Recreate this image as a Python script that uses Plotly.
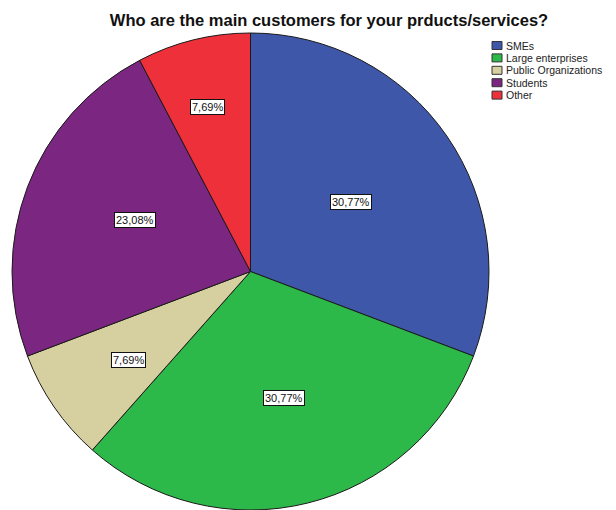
import math
import plotly.graph_objects as go

# Survey answers: main customer groups
categories = ["SMEs", "Large enterprises", "Public Organizations", "Students", "Other"]
counts = [4, 4, 1, 3, 1]
colors = ["#3F57A8", "#2DB84A", "#D6CFA0", "#7B2680", "#EE303A"]

# radial placement of the boxed percentage labels (fraction of radius)
label_radius = [0.51, 0.58, 0.71, 0.61, 0.745]

FONT = "Liberation Sans, Arial, sans-serif"
W, H = 616, 510
dom_x = [(250.5 - 240) / W, (250.5 + 240) / W]
dom_y = [0.0, 1 - 33 / H]

fig = go.Figure(go.Pie(
    labels=categories,
    values=counts,
    marker=dict(colors=colors, line=dict(color="#1a1a1a", width=1)),
    sort=False,
    direction="clockwise",
    rotation=0,
    textinfo="none",
    hoverinfo="label+percent",
    showlegend=False,
    domain=dict(x=dom_x, y=dom_y),
))

# pie geometry in pixels, derived from the domain
dw = (dom_x[1] - dom_x[0]) * W
dh = (dom_y[1] - dom_y[0]) * H
radius = min(dw, dh) / 2
cx = (dom_x[0] + dom_x[1]) / 2 * W
cy = (1 - (dom_y[0] + dom_y[1]) / 2) * H

total = sum(counts)
start = 0.0
for val, frac in zip(counts, label_radius):
    share = val / total
    mid = (start + share / 2) * 2 * math.pi
    start += share
    px = cx + math.sin(mid) * radius * frac
    py = cy - math.cos(mid) * radius * frac
    txt = f"{share * 100:.2f}%".replace(".", ",")
    fig.add_annotation(
        x=px / W, y=1 - py / H, xref="paper", yref="paper",
        text=txt, showarrow=False,
        font=dict(family=FONT, size=11, color="#111"),
        bgcolor="white", bordercolor="#111", borderwidth=1, borderpad=1,
    )

# compact legend: coloured squares with category names
leg_x, leg_y, box_w, box_h, step = 492, 41.5, 10, 8, 12.4
for i, (name, col) in enumerate(zip(categories, colors)):
    top = leg_y + i * step
    fig.add_shape(
        type="rect", xref="paper", yref="paper",
        x0=leg_x / W, x1=(leg_x + box_w) / W,
        y0=1 - (top + box_h) / H, y1=1 - top / H,
        fillcolor=col, line=dict(color="#333", width=1),
    )
    fig.add_annotation(
        x=(leg_x + box_w + 2) / W, y=1 - (top + box_h / 2) / H,
        xref="paper", yref="paper", xanchor="left", yanchor="middle",
        text=name, showarrow=False,
        font=dict(family=FONT, size=10.5, color="#222"),
    )

fig.update_layout(
    width=W, height=H,
    margin=dict(l=0, r=0, t=0, b=0),
    paper_bgcolor="white",
    title=dict(
        text="<b>Who are the main customers for your prducts/services?</b>",
        x=329 / W, xanchor="center", y=1 - 20 / H, yanchor="middle",
        font=dict(family=FONT, size=16.5, color="#111"),
    ),
)

fig.write_html("out.html")
